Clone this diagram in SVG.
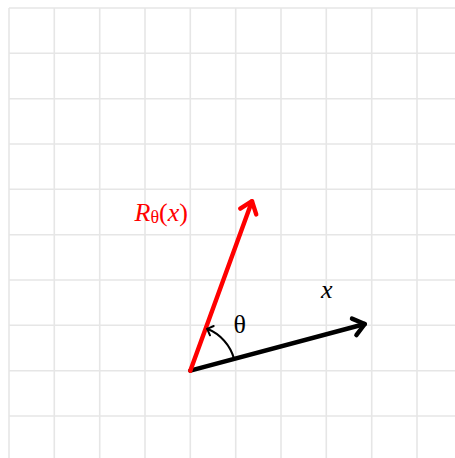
<svg xmlns="http://www.w3.org/2000/svg" width="455" height="458" viewBox="0 0 455 458">
<defs>
<style>
.grid line{stroke:#e6e6e6;stroke-width:1.6}
.vec{fill:none;stroke-width:4.4;stroke-linecap:round;stroke-linejoin:round}
.lbl{font-family:"Liberation Serif","Times New Roman",serif;font-size:26px}
</style>
<marker id="ahK" markerUnits="userSpaceOnUse" orient="auto" markerWidth="30" markerHeight="30" refX="0" refY="0" viewBox="-15 -15 30 30" overflow="visible">
<path d="M-11,-8.5 L0,0 L-11,8.5" fill="none" stroke="#000" stroke-width="4.4" stroke-linecap="round" stroke-linejoin="round"/>
</marker>
<marker id="ahR" markerUnits="userSpaceOnUse" orient="auto" markerWidth="30" markerHeight="30" refX="0" refY="0" viewBox="-15 -15 30 30" overflow="visible">
<path d="M-11,-8.5 L0,0 L-11,8.5" fill="none" stroke="#ff0000" stroke-width="4.4" stroke-linecap="round" stroke-linejoin="round"/>
</marker>
<marker id="ahA" markerUnits="userSpaceOnUse" orient="auto" markerWidth="20" markerHeight="20" refX="0" refY="0" viewBox="-10 -10 20 20" overflow="visible">
<path d="M-5,-5 L0,0 L-5,5" fill="none" stroke="#000" stroke-width="2" stroke-linecap="round" stroke-linejoin="round"/>
</marker>
</defs>
<rect width="455" height="458" fill="#fff"/>
<g id="grid" class="grid">
<line x1="9" y1="8" x2="9" y2="458"/>
<line x1="54.3" y1="8" x2="54.3" y2="458"/>
<line x1="99.7" y1="8" x2="99.7" y2="458"/>
<line x1="145" y1="8" x2="145" y2="458"/>
<line x1="190.3" y1="8" x2="190.3" y2="458"/>
<line x1="235.7" y1="8" x2="235.7" y2="458"/>
<line x1="281" y1="8" x2="281" y2="458"/>
<line x1="326.3" y1="8" x2="326.3" y2="458"/>
<line x1="371.7" y1="8" x2="371.7" y2="458"/>
<line x1="417" y1="8" x2="417" y2="458"/>
<line x1="9" y1="8" x2="455" y2="8"/>
<line x1="9" y1="53.3" x2="455" y2="53.3"/>
<line x1="9" y1="98.7" x2="455" y2="98.7"/>
<line x1="9" y1="144" x2="455" y2="144"/>
<line x1="9" y1="189.3" x2="455" y2="189.3"/>
<line x1="9" y1="234.7" x2="455" y2="234.7"/>
<line x1="9" y1="280" x2="455" y2="280"/>
<line x1="9" y1="325.3" x2="455" y2="325.3"/>
<line x1="9" y1="370.7" x2="455" y2="370.7"/>
<line x1="9" y1="416" x2="455" y2="416"/>
</g>
<g id="connectors">
<path id="vec-x" class="vec" stroke="#000" d="M190.3,370.7 L364.8,324" marker-end="url(#ahK)"/>
<path id="vec-rx" class="vec" stroke="#ff0000" d="M190.3,370.7 L252,201.2" marker-end="url(#ahR)"/>
<path id="angle-arc" fill="none" stroke="#000" stroke-width="2" stroke-linecap="round" d="M234.1,359 A45.33,45.33 0 0 0 207.2,328.8" marker-end="url(#ahA)"/>
</g>
<g id="label-x"><text class="lbl" x="321" y="297.5" font-style="italic">x</text></g>
<g id="label-theta"><text class="lbl" x="233.5" y="332.5">θ</text></g>
<g id="label-rx"><text class="lbl" x="134.5" y="221" fill="#ff0000"><tspan font-style="italic">R</tspan><tspan font-size="18" dy="1.5">θ</tspan><tspan dy="-1.5">(</tspan><tspan font-style="italic">x</tspan>)</text></g>
</svg>
